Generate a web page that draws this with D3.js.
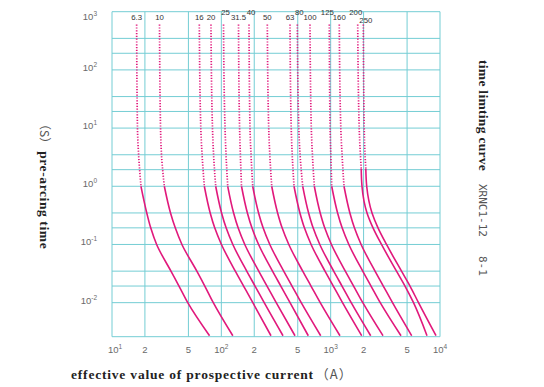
<!DOCTYPE html>
<html><head><meta charset="utf-8">
<script src="https://cdn.jsdelivr.net/npm/d3@7"></script>
<style>
html,body{margin:0;padding:0;background:#fff;}
svg{display:block;}
</style></head>
<body>
<svg id="chart" width="544" height="387"></svg>
<script>
// ---------------- data ----------------
const ratings = ["6.3","10","16","20","25","31.5","40","50","63","80","100","125","160","200","250"];
// times (s) for the dotted (long-time) and solid (short-time) parts
const dottedTimes = [600, 10, 3, 1];
const solidTimes = [1, 0.348, 0.193, 0.1, 0.0348, 0.0193, 0.01, 0.0027];
// prospective current (A) at each time, one row per rating
const dottedCurrents = [
  [16.8, 17.1, 17.6, 18.4],
  [27.2, 27.8, 28.5, 30.1],
  [62.9, 64.9, 67.0, 69.9],
  [80.4, 83.0, 85.3, 88.8],
  [104.7, 108.1, 110.8, 114.4],
  [143.6, 146.9, 149.7, 152.9],
  [179.1, 182.9, 187.6, 193.6],
  [263.4, 271.3, 278.7, 288.9],
  [424.8, 435.7, 446.7, 462.1],
  [495.4, 511.3, 527.7, 555.0],
  [647.1, 665.1, 683.6, 708.6],
  [971.8, 988.3, 1005, 1022],
  [1199, 1238, 1277, 1324],
  [1768, 1824, 1879, 1934],
  [1989, 2027, 2070, 2136]
];
const solidCurrents = [
  [18.4, 20.8, 22.6, 25.6, 34.6, 41.0, 49.3, 78.0],
  [30.1, 34.3, 37.9, 43.6, 59.7, 70.6, 84.4, 127.4],
  [69.9, 79.1, 87.0, 100.2, 134.2, 159.8, 194.1, 284.6],
  [88.8, 100.5, 110.6, 127.4, 170.7, 203.3, 246.6, 366.6],
  [114.4, 129.5, 142.4, 163.9, 219.8, 261.7, 317.6, 471.9],
  [152.9, 173.1, 190.4, 219.2, 293.8, 350.0, 424.9, 624.4],
  [193.6, 219.1, 241.0, 277.6, 372.0, 443.0, 537.8, 810.9],
  [288.9, 327.1, 359.6, 414.1, 555.0, 660.9, 802.5, 1217],
  [462.1, 523.3, 575.4, 662.3, 887.6, 1057, 1283, 1923],
  [555.0, 628.5, 690.9, 795.4, 1066, 1270, 1541, 2324],
  [708.6, 802.3, 882.2, 1016, 1361, 1621, 1968, 3011],
  [1022, 1157, 1273, 1466, 1964, 2339, 2840, 4399],
  [1324, 1499, 1649, 1899, 2545, 3030, 3678, 5510],
  [1934, 2150, 2440, 2917, 4001, 4786, 5725, 7605],
  [2136, 2389, 2710, 3242, 4446, 5318, 6359, 9194]
];
// ratings whose solid part already begins above 1 s: [current (A), time (s)]
const earlySolidStart = { "200": [1903, 2], "250": [2096, 2] };
// axis ticks / grid
const xGridValues = [10,20,50,100,200,500,1000,2000,5000,10000];
const xTickLabels = [["10","1"],["2",""],["5",""],["10","2"],["2",""],["5",""],["10","3"],["2",""],["5",""],["10","4"]];
const yGridValues = [1000,348,193,100,34.8,19.3,10,3.48,1.93,1,0.348,0.193,0.1,0.0348,0.0193,0.01];
const yTickValues = [1000,100,10,1,0.1,0.01];
const yTickLabels = [["10","3"],["10","2"],["10","1"],["10","0"],["10","-1"],["10","-2"]];
const raisedLabels = ["25","40","80","125","200"];
const loweredLabels = ["250"];

// ---------------- drawing ----------------
const svg = d3.select("#chart");
const x = d3.scaleLog().domain([10, 10000]).range([112, 440]);
const y = d3.scaleLog().domain([1000, 0.0026]).range([11.7, 336.7]);
const gridColor = "#74cdd4";
const curveColor = "#e1197c";

const grid = svg.append("g");
grid.selectAll("line.v").data(xGridValues).join("line")
  .attr("x1", d => x(d)).attr("x2", d => x(d))
  .attr("y1", y.range()[0]).attr("y2", y.range()[1])
  .attr("stroke", gridColor).attr("stroke-width", 1);
grid.selectAll("line.h").data(yGridValues.concat([0.0026])).join("line")
  .attr("x1", x.range()[0]).attr("x2", x.range()[1])
  .attr("y1", d => y(d)).attr("y2", d => y(d))
  .attr("stroke", gridColor).attr("stroke-width", 1);

// x tick labels
const xt = svg.append("g").attr("font-family", "Liberation Sans, Arial, sans-serif").attr("fill", "#6a6a6a");
xGridValues.forEach((v, i) => {
  const t = xt.append("text").attr("x", x(v) + (i === 0 ? 3 : 0)).attr("y", 353).attr("text-anchor", "middle").attr("font-size", 9.5);
  t.append("tspan").text(xTickLabels[i][0]);
  if (xTickLabels[i][1]) t.append("tspan").attr("dy", -4).attr("font-size", 6.5).text(xTickLabels[i][1]);
});
// y tick labels
const yt = svg.append("g").attr("font-family", "Liberation Sans, Arial, sans-serif").attr("fill", "#6a6a6a");
yTickValues.forEach((v, i) => {
  const base = i === 0 ? y(v) + 8 : y(v) + 1;
  const t = yt.append("text").attr("x", 97).attr("y", base).attr("text-anchor", "end").attr("font-size", 9.5);
  t.append("tspan").text(yTickLabels[i][0]);
  t.append("tspan").attr("dy", -4).attr("font-size", 6.5).text(yTickLabels[i][1]);
});

const line = d3.line().x(d => x(d[0])).y(d => y(d[1])).curve(d3.curveMonotoneY);
const curves = svg.append("g").attr("fill", "none").attr("stroke", curveColor);
ratings.forEach((r, i) => {
  let dp = dottedCurrents[i].map((c, j) => [c, dottedTimes[j]]);
  let sp = solidCurrents[i].map((c, j) => [c, solidTimes[j]]);
  const early = earlySolidStart[r];
  if (early) {
    dp = dp.filter(p => p[1] > early[1]).concat([early]);
    sp = [early].concat(sp);
  }
  curves.append("path").attr("d", line(dp)).attr("stroke-width", 1.7).attr("stroke-dasharray", "1.2 1.6");
  curves.append("path").attr("d", line(sp)).attr("stroke-width", 1.6);
});

// rating labels
const lab = svg.append("g").attr("font-family", "Liberation Sans, Arial, sans-serif").attr("font-size", 7.8).attr("fill", "#333").attr("text-anchor", "middle");
ratings.forEach((r, i) => {
  let yy = 19.5, dx = 0;
  if (raisedLabels.includes(r)) { yy = 14.5; dx = (r === "125" || r === "200") ? -2 : 2; }
  if (loweredLabels.includes(r)) { yy = 22.5; dx = 2.5; }
  lab.append("text").attr("x", x(dottedCurrents[i][0]) + dx).attr("y", yy).text(r);
});

// axis titles
const serif = "Liberation Serif, Times New Roman, serif";
const xTitle = svg.append("text").attr("x", 71).attr("y", 379).attr("font-family", serif).attr("font-weight", "bold").attr("font-size", 13.5).attr("letter-spacing", 0.8).attr("fill", "#222");
xTitle.append("tspan").text("effective value of prospective current");
xTitle.append("tspan").attr("dx", 2).attr("font-family", "Noto Sans CJK SC, sans-serif").attr("font-weight", "normal").attr("letter-spacing", 1).attr("fill", "#555").attr("font-size", 13).text("（A）");

const yTitle = svg.append("text").attr("transform", "translate(40,118) rotate(90)").attr("font-family", serif).attr("font-weight", "bold").attr("font-size", 13.5).attr("letter-spacing", 0.6).attr("fill", "#222");
yTitle.append("tspan").attr("font-family", "Noto Sans CJK SC, sans-serif").attr("font-weight", "normal").attr("letter-spacing", 0).attr("fill", "#555").attr("font-size", 12).text("（S）");
yTitle.append("tspan").attr("dx", 2).text("pre-arcing time");

const rTitle = svg.append("text").attr("transform", "translate(479,60) rotate(90)").attr("font-family", serif).attr("font-weight", "bold").attr("font-size", 13.5).attr("letter-spacing", 0.3).attr("fill", "#222");
rTitle.append("tspan").text("time limting curve");
svg.append("text").attr("transform", "translate(479,184) rotate(90)").attr("font-family", "DejaVu Sans Mono, monospace").attr("font-size", 11).attr("fill", "#555").text("XRNC1-12");
svg.append("text").attr("transform", "translate(479,256) rotate(90)").attr("font-family", "DejaVu Sans Mono, monospace").attr("font-size", 11).attr("fill", "#555").text("8-1");
</script>
</body></html>
